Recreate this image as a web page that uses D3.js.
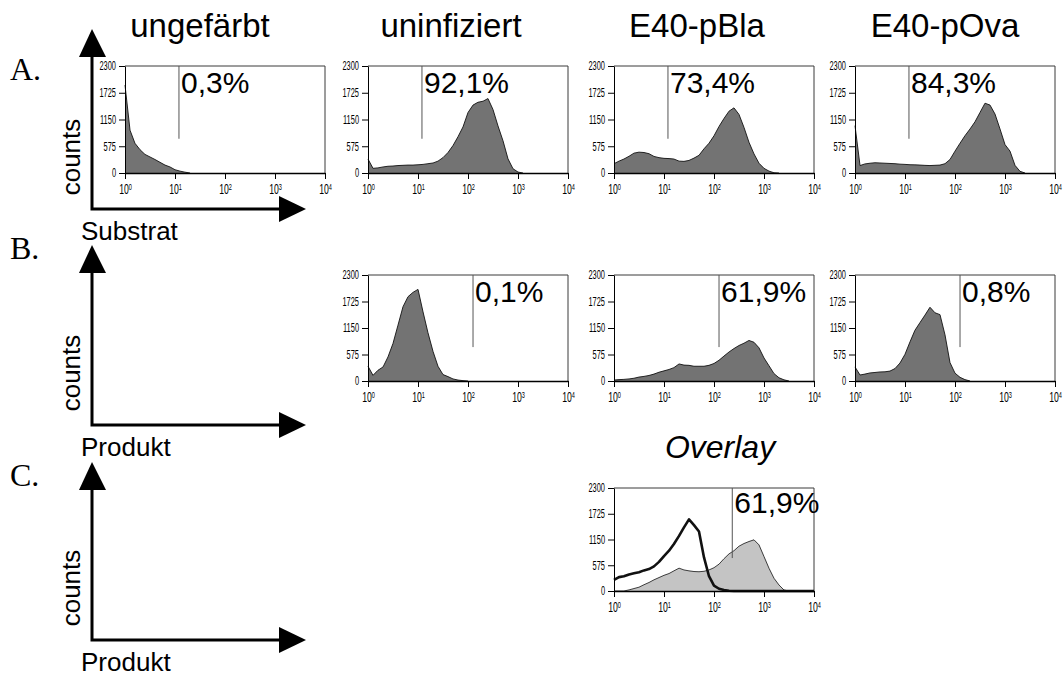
<!DOCTYPE html>
<html>
<head>
<meta charset="utf-8">
<script src="https://cdn.jsdelivr.net/npm/d3@7"></script>
<style>
  body { margin: 0; background: #fff; }
  svg text { font-family: "Liberation Sans", Arial, Helvetica, sans-serif; fill: #000; }
</style>
</head>
<body>
<svg id="chart" width="1063" height="676"></svg>
<script>
// fluorescence channel bins, 0.1 decade apart (10^0 .. 10^4)
const channelBins = [1, 1.26, 1.58, 2, 2.51, 3.16, 3.98, 5.01, 6.31, 7.94,
  10, 12.6, 15.8, 20, 25.1, 31.6, 39.8, 50.1, 63.1, 79.4,
  100, 126, 158, 200, 251, 316, 398, 501, 631, 794,
  1000, 1259, 1585, 1995, 2512, 3162, 3981, 5012, 6310, 7943, 10000];

const countTicks = [0, 575, 1150, 1725, 2300];
const decadeTicks = [1, 10, 100, 1000, 10000];
const decadeExponents = ["0", "1", "2", "3", "4"];

const columnTitles = ["ungefärbt", "uninfiziert", "E40-pBla", "E40-pOva"];
const rowLetters = ["A.", "B.", "C."];
const rowAxisLabels = ["Substrat", "Produkt", "Produkt"];

// A. Substrat histograms (counts per bin)
const substratUngefaerbt = [1890, 920, 640, 500, 400, 345, 290, 230, 170, 130, 70, 40, 18, 0];
const substratUninfiziert = [300, 100, 110, 130, 145, 150, 160, 165, 170, 170, 177, 185, 200, 215, 255, 330, 440, 590, 780, 990,
  1300, 1460, 1520, 1543, 1600, 1366, 1012, 693, 304, 92, 20, 0];
const substratPBla = [200, 255, 300, 360, 427, 448, 440, 415, 356, 330, 315, 310, 300, 255, 250, 270, 320, 380, 520, 640,
  800, 1000, 1170, 1330, 1400, 1260, 980, 660, 410, 210, 100, 40, 5, 0];
const substratPOva = [1018, 160, 195, 210, 220, 215, 210, 205, 200, 190, 185, 178, 175, 170, 164, 160, 165, 170, 200, 290,
  470, 640, 800, 947, 1100, 1300, 1500, 1460, 1267, 947, 610, 470, 164, 36, 0];

// B. Produkt histograms
const produktUninfiziert = [320, 123, 232, 305, 522, 813, 1212, 1611, 1829, 1923, 1988, 1500, 1050, 640, 320, 140, 95, 45, 20, 8, 0];
const produktPBla = [20, 30, 35, 45, 60, 85, 100, 120, 150, 190, 220, 250, 290, 370, 345, 340, 320, 320, 320, 340,
  380, 450, 540, 630, 704, 770, 820, 880, 840, 720, 500, 330, 160, 70, 25, 0];
const produktPOva = [305, 130, 150, 175, 185, 196, 200, 215, 270, 390, 580, 850, 1100, 1270, 1430, 1600, 1480, 1440, 1000, 400,
  170, 80, 30, 0];

// C. Overlay
const overlayPBla = [0, 0, 0, 25, 55, 85, 140, 190, 250, 300, 350, 390, 450, 510, 470, 450, 435, 430, 440, 470,
  520, 600, 720, 830, 900, 1000, 1060, 1105, 1143, 1030, 769, 508, 284, 134, 22, 0];
const overlayPOva = [246, 310, 330, 370, 395, 420, 460, 490, 550, 650, 780, 900, 1050, 1230, 1420, 1600, 1470, 1330, 750, 330,
  120, 50, 20, 5, 0, 0, 0, 0, 0, 0, 0, 0, 0, 0, 0, 0, 0, 0, 0, 0, 0];

const gatesSubstrat = [12, 12, 12, 12];
const gatesProdukt = [126, 126, 126];
const gateOverlay = 232;
const percentSubstrat = ["0,3%", "92,1%", "73,4%", "84,3%"];
const percentProdukt = ["0,1%", "61,9%", "0,8%"];
const percentOverlay = "61,9%";

// layout
const svg = d3.select('#chart');
const colLeft = [125, 368, 614, 855];
const titleX = [200, 451, 697, 945];
const rowTop = [66, 275, 488];
const rowHeight = [107, 106, 103];
const PW = 200;
const NARROW = 0.62;

function drawPanel(left, top, h, series, gate, pct, pctDy) {
  const x = d3.scaleLog().domain([1, 10000]).range([0, PW]);
  const y = d3.scaleLinear().domain([0, 2300]).range([h, 0]);
  const g = svg.append('g').attr('transform', `translate(${left},${top})`);

  g.append('path')
    .attr('d', `M0,0H${PW}V${h}`)
    .attr('fill', 'none')
    .attr('stroke', '#3a3a3a')
    .attr('stroke-width', 1);

  series.forEach(s => {
    const pts = s.values.map((c, i) => [channelBins[i], c]);
    if (s.fill) {
      g.append('path')
        .datum(pts)
        .attr('fill', s.fill)
        .attr('d', d3.area().x(d => x(d[0])).y0(h).y1(d => y(d[1])));
    }
    g.append('path')
      .datum(pts)
      .attr('fill', 'none')
      .attr('stroke', '#111')
      .attr('stroke-width', s.width)
      .attr('stroke-linejoin', 'round')
      .attr('d', d3.line().x(d => x(d[0])).y(d => y(d[1])));
  });

  g.append('line')
    .attr('x1', x(gate)).attr('x2', x(gate))
    .attr('y1', 0).attr('y2', h * 0.68)
    .attr('stroke', '#555')
    .attr('stroke-width', 1);

  g.append('text')
    .attr('x', x(gate) + 2)
    .attr('y', pctDy)
    .attr('font-size', 30)
    .text(pct);

  const yAxis = d3.axisLeft(y).tickValues(countTicks).tickFormat(d3.format('d'))
    .tickSize(6).tickSizeOuter(0).tickPadding(3);
  const ya = g.append('g').call(yAxis);
  ya.select('.domain').attr('stroke', '#000');
  ya.selectAll('text')
    .attr('font-size', 12)
    .attr('x', -9 / NARROW)
    .attr('transform', `scale(${NARROW},1)`);

  const xAxis = d3.axisBottom(x).tickValues(decadeTicks).tickSize(6).tickSizeOuter(0).tickFormat('');
  const xa = g.append('g').attr('transform', `translate(0,${h})`).call(xAxis);
  xa.select('.domain').attr('stroke', '#000').attr('stroke-width', 1.6);
  xa.selectAll('.tick').each(function (d, i) {
    const t = d3.select(this).append('text')
      .attr('transform', `translate(0,21) scale(${NARROW},1)`)
      .attr('text-anchor', 'middle')
      .attr('font-size', 14);
    t.append('tspan').text('10');
    t.append('tspan').attr('font-size', 9).attr('dy', -4).text(decadeExponents[i]);
  });
}

// big schematic axes on the left
const axisHoriz = [209, 425, 640];
const axisTip = [29, 245, 462];
rowLetters.forEach((letter, r) => {
  const g = svg.append('g');
  const yH = axisHoriz[r], yT = axisTip[r];
  g.append('path')
    .attr('d', `M92,${yT + 26}V${yH}H${280}`)
    .attr('fill', 'none')
    .attr('stroke', '#000')
    .attr('stroke-width', 3);
  g.append('path')
    .attr('d', `M92,${yT}L106,${yT + 28}L79,${yT + 28}Z`)
    .attr('fill', '#000');
  g.append('path')
    .attr('d', `M306,${yH}L279,${yH - 13}L279,${yH + 13}Z`)
    .attr('fill', '#000');
  g.append('text')
    .attr('transform', `translate(80,${yH - 52}) rotate(-90)`)
    .attr('text-anchor', 'middle')
    .attr('font-size', 26)
    .text('counts');
  g.append('text')
    .attr('x', 81)
    .attr('y', yH + 31)
    .attr('font-size', 26)
    .text(rowAxisLabels[r]);
});

const letterBaseline = [80, 259, 486];
rowLetters.forEach((letter, r) => {
  svg.append('text')
    .attr('x', 10)
    .attr('y', letterBaseline[r])
    .attr('font-size', 32)
    .style('font-family', '"Liberation Serif", "Times New Roman", serif')
    .text(letter);
});

columnTitles.forEach((t, c) => {
  svg.append('text')
    .attr('x', titleX[c])
    .attr('y', 37)
    .attr('text-anchor', 'middle')
    .attr('font-size', 33)
    .text(t);
});

svg.append('text')
  .attr('x', 720)
  .attr('y', 458)
  .attr('text-anchor', 'middle')
  .attr('font-size', 32)
  .attr('font-style', 'italic')
  .text('Overlay');

const dark = '#737373';
const substratSeries = [substratUngefaerbt, substratUninfiziert, substratPBla, substratPOva];
substratSeries.forEach((vals, c) => {
  drawPanel(colLeft[c], rowTop[0], rowHeight[0], [{ values: vals, fill: dark, width: 0.9 }],
    gatesSubstrat[c], percentSubstrat[c], 27);
});

const produktSeries = [produktUninfiziert, produktPBla, produktPOva];
produktSeries.forEach((vals, c) => {
  drawPanel(colLeft[c + 1], rowTop[1], rowHeight[1], [{ values: vals, fill: dark, width: 0.9 }],
    gatesProdukt[c], percentProdukt[c], 27);
});

drawPanel(colLeft[2], rowTop[2], rowHeight[2], [
  { values: overlayPBla, fill: '#c4c4c4', width: 0.8 },
  { values: overlayPOva, fill: null, width: 2.6 }
], gateOverlay, percentOverlay, 25);
</script>
</body>
</html>
